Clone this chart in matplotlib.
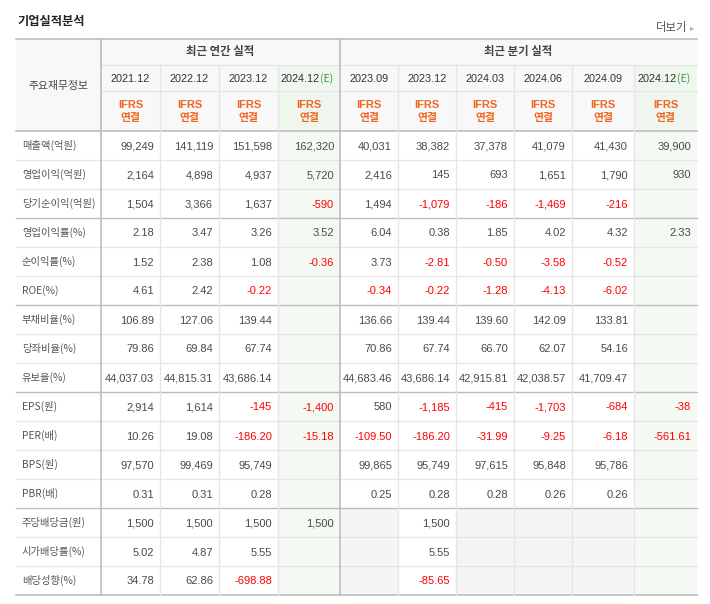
import matplotlib.pyplot as plt
from matplotlib.patches import Rectangle

# ---- data ----
annual_periods = ['2021.12', '2022.12', '2023.12', '2024.12']
quarter_periods = ['2023.09', '2023.12', '2024.03', '2024.06', '2024.09', '2024.12']
estimate_flags = [False, False, False, True, False, False, False, False, False, True]

row_labels = [
    '매출액(억원)', '영업이익(억원)', '당기순이익(억원)',
    '영업이익률(%)', '순이익률(%)', 'ROE(%)',
    '부채비율(%)', '당좌비율(%)', '유보율(%)',
    'EPS(원)', 'PER(배)', 'BPS(원)', 'PBR(배)',
    '주당배당금(원)', '시가배당률(%)', '배당성향(%)',
]

annual_values = [
    ['99,249', '141,119', '151,598', '162,320'],
    ['2,164', '4,898', '4,937', '5,720'],
    ['1,504', '3,366', '1,637', '-590'],
    ['2.18', '3.47', '3.26', '3.52'],
    ['1.52', '2.38', '1.08', '-0.36'],
    ['4.61', '2.42', '-0.22', ''],
    ['106.89', '127.06', '139.44', ''],
    ['79.86', '69.84', '67.74', ''],
    ['44,037.03', '44,815.31', '43,686.14', ''],
    ['2,914', '1,614', '-145', '-1,400'],
    ['10.26', '19.08', '-186.20', '-15.18'],
    ['97,570', '99,469', '95,749', ''],
    ['0.31', '0.31', '0.28', ''],
    ['1,500', '1,500', '1,500', '1,500'],
    ['5.02', '4.87', '5.55', ''],
    ['34.78', '62.86', '-698.88', ''],
]

quarter_values = [
    ['40,031', '38,382', '37,378', '41,079', '41,430', '39,900'],
    ['2,416', '145', '693', '1,651', '1,790', '930'],
    ['1,494', '-1,079', '-186', '-1,469', '-216', ''],
    ['6.04', '0.38', '1.85', '4.02', '4.32', '2.33'],
    ['3.73', '-2.81', '-0.50', '-3.58', '-0.52', ''],
    ['-0.34', '-0.22', '-1.28', '-4.13', '-6.02', ''],
    ['136.66', '139.44', '139.60', '142.09', '133.81', ''],
    ['70.86', '67.74', '66.70', '62.07', '54.16', ''],
    ['44,683.46', '43,686.14', '42,915.81', '42,038.57', '41,709.47', ''],
    ['580', '-1,185', '-415', '-1,703', '-684', '-38'],
    ['-109.50', '-186.20', '-31.99', '-9.25', '-6.18', '-561.61'],
    ['99,865', '95,749', '97,615', '95,848', '95,786', ''],
    ['0.25', '0.28', '0.28', '0.26', '0.26', ''],
    ['', '1,500', '', '', '', ''],
    ['', '5.55', '', '', '', ''],
    ['', '-85.65', '', '', '', ''],
]
# quarterly cells with no dividend data shown greyed
grey_rows = [13, 14, 15]

# ---- layout (pixels) ----
KR = ['Noto Sans CJK KR', 'DejaVu Sans']
NUM = ['Liberation Sans', 'DejaVu Sans']
col_edges = [16, 101, 160, 219, 278, 340, 398, 456, 514, 572, 634, 697]
top, h1, h2, h3 = 39, 65, 91, 131
row_h = 29
n_rows = len(row_labels)
bottom = h3 + n_rows * row_h
group_breaks = [3, 6, 9, 13]

light = '#e6e6e6'
dark = '#bdbdbd'
head_bg = '#f8f8f8'
green_head = '#eef6ee'
green_body = '#f4f9f4'
grey_bg = '#f5f5f5'
num_color = '#4a4a4a'
neg_color = '#ff0000'
orange = '#f26522'

fig = plt.figure(figsize=(7.1, 6.04), dpi=100)
ax = fig.add_axes([0, 0, 1, 1])
ax.set_xlim(0, 710)
ax.set_ylim(604, 0)
ax.axis('off')

# title
ax.text(17, 22, '기업실적분석', family=KR, fontsize=8.8, fontweight='bold',
        color='#222222', va='center', ha='left')
ax.text(687, 28, '더보기', family=KR, fontsize=8.2, color='#555555', va='center', ha='right')
ax.text(694, 27.5, '▸', family=['DejaVu Sans'], fontsize=6, color='#aaaaaa', va='center', ha='right')

# header background
ax.add_patch(Rectangle((col_edges[0], top), col_edges[-1] - col_edges[0], h3 - top,
                       facecolor=head_bg, edgecolor='none'))

# column backgrounds
all_periods = annual_periods + quarter_periods
for j, est in enumerate(estimate_flags):
    x0, x1 = col_edges[j + 1], col_edges[j + 2]
    if est:
        ax.add_patch(Rectangle((x0, h1), x1 - x0, h3 - h1, facecolor=green_head, edgecolor='none'))
        ax.add_patch(Rectangle((x0, h3), x1 - x0, bottom - h3, facecolor=green_body, edgecolor='none'))
for i in grey_rows:
    y0 = h3 + i * row_h
    for k in range(len(quarter_periods)):
        j = len(annual_periods) + k
        if estimate_flags[j] or quarter_values[i][k]:
            continue
        x0, x1 = col_edges[j + 1], col_edges[j + 2]
        ax.add_patch(Rectangle((x0, y0), x1 - x0, row_h, facecolor=grey_bg, edgecolor='none'))

# horizontal lines
for i in range(1, n_rows):
    y = h3 + i * row_h
    c = dark if i in group_breaks else light
    ax.plot([col_edges[0], col_edges[-1]], [y, y], color=c, lw=1)
for y in [h1, h2]:
    ax.plot([col_edges[1], col_edges[-1]], [y, y], color=light, lw=1)
for y in [top, h3, bottom]:
    ax.plot([col_edges[0], col_edges[-1]], [y, y], color=dark, lw=1.2)

# vertical lines
for j, x in enumerate(col_edges[1:-1], start=1):
    if j in (1, 5):
        ax.plot([x, x], [top, bottom], color=dark, lw=1.2)
    else:
        ax.plot([x, x], [h1, bottom], color=light, lw=1)

# header text
ax.text((col_edges[0] + col_edges[1]) / 2, (top + h3) / 2 + 1, '주요재무정보', family=KR,
        fontsize=7.8, color='#444444', ha='center', va='center')
ax.text((col_edges[1] + col_edges[5]) / 2, (top + h1) / 2, '최근 연간 실적', family=KR,
        fontsize=8.2, fontweight='bold', color='#444444', ha='center', va='center')
ax.text((col_edges[5] + col_edges[-1]) / 2, (top + h1) / 2, '최근 분기 실적', family=KR,
        fontsize=8.2, fontweight='bold', color='#444444', ha='center', va='center')

for j, p in enumerate(all_periods):
    x0, x1 = col_edges[j + 1], col_edges[j + 2]
    xc = (x0 + x1) / 2
    yb = (h1 + h2) / 2 + 4
    if estimate_flags[j]:
        ax.text(xc + 11, yb, p, family=NUM, fontsize=7.8, color='#333333', ha='right', va='baseline')
        ax.text(xc + 11, yb, '(E)', family=KR, fontsize=7.6, color='#3a9a4a', ha='left', va='baseline')
    else:
        ax.text(xc, yb, p, family=NUM, fontsize=7.8, color='#333333', ha='center', va='baseline')
    ax.text(xc, 105, 'IFRS', family=NUM, fontsize=8, fontweight='bold', color=orange,
            ha='center', va='center')
    ax.text(xc, 118.5, '연결', family=KR, fontsize=7.8, fontweight='bold', color=orange,
            ha='center', va='center')

# body
for i, label in enumerate(row_labels):
    yc = h3 + i * row_h + row_h / 2
    ax.text(22, yc, label, family=KR, fontsize=7.4, color='#555555', ha='left', va='center')
    row = annual_values[i] + quarter_values[i]
    for j, v in enumerate(row):
        if not v:
            continue
        c = neg_color if v.startswith('-') else num_color
        ax.text(col_edges[j + 2] - 6, yc + 4, v, family=NUM, fontsize=8, color=c,
                ha='right', va='baseline')

fig.savefig('out.png', dpi=100)
